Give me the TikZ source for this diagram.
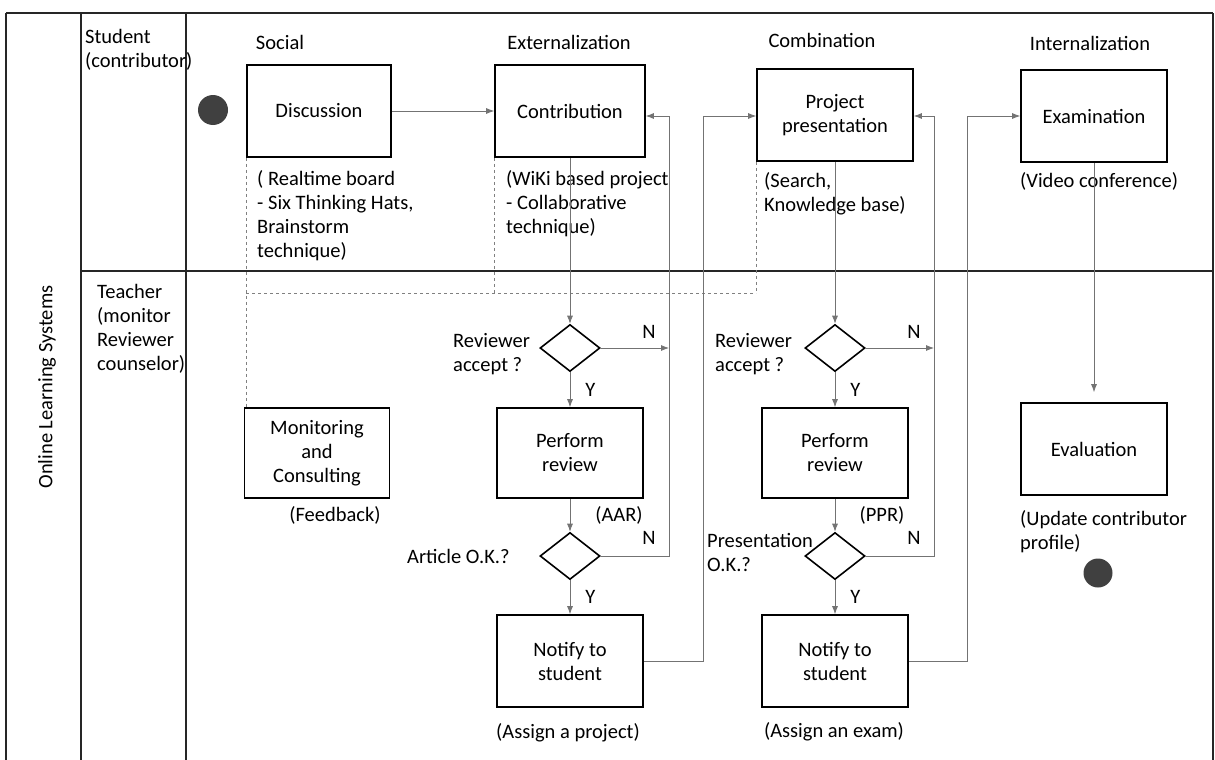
\documentclass[tikz,border=0pt]{standalone}
\usepackage{fontspec}
\setmainfont{Carlito}
\usetikzlibrary{shapes.geometric,arrows.meta}

\begin{document}
\begin{tikzpicture}[x=1pt,y=-1pt,
	font=\fontsize{20.5}{24}\selectfont,
	box/.style={draw,line width=1.6pt,minimum width=146pt,minimum height=92pt,align=center,inner sep=2pt},
	decision/.style={diamond,draw,line width=1.6pt,minimum width=60pt,minimum height=47pt,inner sep=0pt},
	txt/.style={inner sep=0pt,align=left},
	lbl/.style={inner sep=0pt},
	lane/.style={draw=black!85,line width=1.4pt},
	flow/.style={draw=black!55,line width=0.8pt,-{Latex[length=8pt,width=6pt]}},
	dsh/.style={draw=black!50,line width=0.8pt,dashed},
	dot/.style={circle,fill=black!75,minimum size=30pt,inner sep=0pt}]
\useasboundingbox (0,0) rectangle (1215,760);

\foreach \x in {6,81,186,1213}
	\draw[lane] (\x,13) -- (\x,760);
\draw[lane] (6,13) -- (1213,13);
\draw[lane] (81,271) -- (1213,271);

\node[rotate=90] (sys) at (47,387) {Online Learning Systems};
\node[txt,anchor=north west] (stud) at (85,29) {Student\\(contributor)};
\node[txt,anchor=north west] (teach) at (97,284) {Teacher\\(monitor\\Reviewer\\counselor)};

\node (social) at (280,42) {Social};
\node (extern) at (569,42) {Externalization};
\node (combi) at (822,40) {Combination};
\node (intern) at (1090,43) {Internalization};

\node[dot] (start) at (213,110) {};
\node[box,minimum width=144pt] (disc) at (319,111) {Discussion};
\node[box,minimum width=150pt] (contr) at (570,111) {Contribution};
\node[box,minimum width=156pt] (pres) at (835,115) {Project\\presentation};
\node[box] (exam) at (1094,116) {Examination};
\node[box,minimum width=145pt,minimum height=90pt] (mon) at (317,453) {Monitoring\\and\\Consulting};
\node[box,minimum height=90pt] (rev1) at (570,453) {Perform\\review};
\node[box,minimum height=90pt] (rev2) at (835,453) {Perform\\review};
\node[box] (eval) at (1094,449) {Evaluation};
\node[box] (note1) at (570,661) {Notify to\\student};
\node[box] (note2) at (835,661) {Notify to\\student};
\node[decision] (acc1) at (570,348) {};
\node[decision] (acc2) at (835,348) {};
\node[decision] (ok1) at (570,556) {};
\node[decision] (ok2) at (835,556) {};
\node[dot,minimum size=29pt] (stop) at (1098,573) {};

\node[txt,anchor=north west] (board) at (257,170) {( Realtime board\\- Six Thinking Hats,\\Brainstorm\\technique)};
\node[txt,anchor=north west] (wiki) at (506,170) {(WiKi based project\\- Collaborative\\technique)};
\node[txt,anchor=north west] (search) at (764,172) {(Search,\\Knowledge base)};
\node[txt,anchor=north west] (video) at (1020,172) {(Video conference)};
\node[txt,anchor=west] (q1) at (453,354) {Reviewer\\accept ?};
\node[txt,anchor=west] (q2) at (715,354) {Reviewer\\accept ?};
\node[txt,anchor=west] (q3) at (407,556) {Article O.K.?};
\node[txt,anchor=west] (q4) at (707,552) {Presentation\\O.K.?};
\node[lbl] (feed) at (335,515) {(Feedback)};
\node[lbl] (aar) at (619,515) {(AAR)};
\node[lbl] (ppr) at (882,515) {(PPR)};
\node[lbl] (proj) at (568,733) {(Assign a project)};
\node[lbl] (exm) at (834,732) {(Assign an exam)};
\node[txt,anchor=west] (upd) at (1020,532) {(Update contributor\\profile)};
\node[lbl] (n1) at (649,332) {N};
\node[lbl] (n2) at (914,332) {N};
\node[lbl] (n3) at (649,538) {N};
\node[lbl] (n4) at (914,538) {N};

\coordinate (back1) at (669,116);
\coordinate (fwd1) at (703,116);
\coordinate (back2) at (934,116);
\coordinate (fwd2) at (967,116);
\coordinate (mid) at (0,293);

\draw[dsh] (disc.south west) -- (disc.south west |- mon.north);
\draw[dsh] (contr.south west) -- (contr.south west |- mid);
\draw[dsh] (pres.south west) -- (pres.south west |- mid);
\draw[dsh] (disc.south west |- mid) -- (pres.south west |- mid);

\draw[flow] (disc) -- (contr);
\draw[flow] (contr) -- (acc1);
\draw[flow] (acc1) -- node[lbl,right=15pt] {Y} (rev1);
\draw[flow] (acc1.east) -- (acc1.east -| back1);
\draw[flow] (rev1) -- (ok1);
\draw[flow] (ok1) -- node[lbl,right=15pt] {Y} (note1);
\draw[flow] (ok1.east) -| (back1) -- (back1 -| contr.east);
\draw[flow] (note1.east) -| (fwd1) -- (fwd1 -| pres.west);
\draw[flow] (pres) -- (acc2);
\draw[flow] (acc2) -- node[lbl,right=15pt] {Y} (rev2);
\draw[flow] (acc2.east) -- (acc2.east -| back2);
\draw[flow] (rev2) -- (ok2);
\draw[flow] (ok2) -- node[lbl,right=15pt] {Y} (note2);
\draw[flow] (ok2.east) -| (back2) -- (back2 -| pres.east);
\draw[flow] (note2.east) -| (fwd2) -- (fwd2 -| exam.west);
\draw[flow,shorten >=10pt] (exam) -- (eval);
\end{tikzpicture}
\end{document}
